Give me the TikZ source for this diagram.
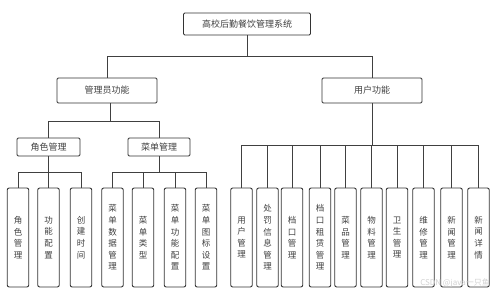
\documentclass[tikz,border=0pt]{standalone}
\usepackage{fontspec}
\setmainfont{Noto Sans CJK SC}
\begin{document}
\begin{tikzpicture}[x=1pt,y=-1pt,
  line width=0.9pt,
  box/.style={draw=black!80, rounded corners=1.2pt, text=black!75, inner sep=0pt, font=\fontsize{9}{11}\selectfont},
  leaf/.style={draw=black!80, rounded corners=2pt, text=black!75, inner sep=0pt, minimum width=21.5pt, minimum height=99pt, align=center, font=\fontsize{8.5}{11.6}\selectfont},
  link/.style={draw=black!75, line width=0.9pt}]
\useasboundingbox (0,0) rectangle (500,295);
% top
\node[box, minimum width=127pt, minimum height=22pt] (root) at (247,24) {高校后勤餐饮管理系统};
\node[box, minimum width=100pt, minimum height=25pt] (admin) at (107,90.5) {管理员功能};
\node[box, minimum width=100pt, minimum height=25pt] (user) at (372,90.5) {用户功能};
\node[box, minimum width=63pt, minimum height=18pt] (role) at (48.5,147) {角色管理};
\node[box, minimum width=62pt, minimum height=18pt] (menu) at (159,147) {菜单管理};
% leaves
\foreach \n/\x/\t in {l1/18/角\\色\\管\\理, l2/48.5/功\\能\\配\\置, l3/81/创\\建\\时\\间,
  l4/112.5/菜\\单\\数\\据\\管\\理, l5/143/菜\\单\\类\\型, l6/175/菜\\单\\功\\能\\配\\置, l7/206/菜\\单\\图\\标\\设\\置,
  r1/241.5/用\\户\\管\\理, r2/267.5/处\\罚\\信\\息\\管\\理, r3/292/档\\口\\管\\理, r4/320/档\\口\\租\\赁\\管\\理,
  r5/345.5/菜\\品\\管\\理, r6/371.5/物\\料\\管\\理, r7/397/卫\\生\\管\\理, r8/423.5/维\\修\\管\\理,
  r9/451.5/新\\闻\\管\\理, r10/478.5/新\\闻\\详\\情}
  {\node[leaf] (\n) at (\x,237.5) {\t};}
% connectors
\coordinate (j0) at (247,56);
\draw[link] (root.south) -- (j0);
\draw[link] (j0) -| (admin.north);
\draw[link] (j0) -| (user.north);
\coordinate (ja) at (110,121);
\draw[link] (admin.south -| ja) -- (ja);
\draw[link] (ja) -| (role.north);
\draw[link] (ja) -| (menu.north);
\coordinate (jr) at (48.5,172);
\draw[link] (role.south) -- (jr);
\foreach \n in {l1,l2,l3} {\draw[link] (jr) -| (\n.north);}
\coordinate (jm) at (159,172);
\draw[link] (menu.south) -- (jm);
\foreach \n in {l4,l5,l6,l7} {\draw[link] (jm) -| (\n.north);}
\coordinate (ju) at (372,145.5);
\draw[link] (user.south) -- (ju);
\foreach \n in {r1,r2,r3,r4,r5,r6,r7,r8,r9,r10} {\draw[link] (ju) -| (\n.north);}
% watermark
\node[text=black!18, font=\fontsize{8}{9}\selectfont, inner sep=0pt] (wm) at (455,283) {CSDN @java一只鱼};
\end{tikzpicture}
\end{document}
